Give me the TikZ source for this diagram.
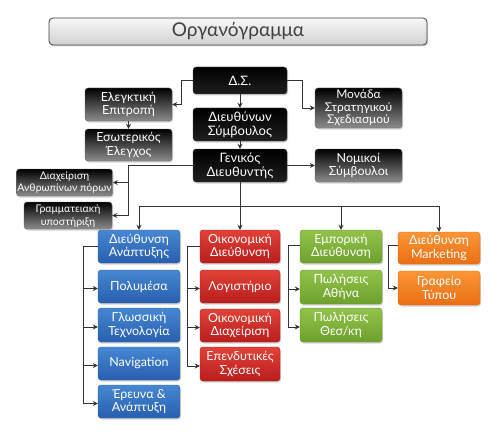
\documentclass[tikz,border=0pt]{standalone}
\usepackage{fontspec}
\setmainfont{Lato}
\usetikzlibrary{shadows,arrows.meta,calc}
\definecolor{lnc}{HTML}{333333}
\tikzset{
  base/.style={rounded corners=3pt, align=center, text=white, inner sep=1pt,
    font=\fontsize{12.5}{13.5}\selectfont,
    drop shadow={shadow xshift=1pt, shadow yshift=-1.5pt, opacity=0.35}},
  mainbox/.style={base, top color=black, bottom color=black!88, draw=black!70, line width=0.4pt, font=\fontsize{13}{14}\selectfont},
  sidebox/.style={base, top color=black, bottom color=black!45, draw=black!60, line width=0.4pt},
  bluebox/.style={base, top color={rgb,255:red,70;green,135;blue,210}, bottom color={rgb,255:red,40;green,95;blue,175}, draw={rgb,255:red,50;green,100;blue,170}, line width=0.4pt},
  redbox/.style={base, top color={rgb,255:red,225;green,65;blue,55}, bottom color={rgb,255:red,185;green,30;blue,30}, draw={rgb,255:red,170;green,30;blue,30}, line width=0.4pt},
  greenbox/.style={base, top color={rgb,255:red,145;green,195;blue,75}, bottom color={rgb,255:red,110;green,160;blue,45}, draw={rgb,255:red,105;green,150;blue,45}, line width=0.4pt},
  orangebox/.style={base, top color={rgb,255:red,250;green,150;blue,55}, bottom color={rgb,255:red,235;green,110;blue,20}, draw={rgb,255:red,220;green,105;blue,20}, line width=0.4pt},
  titlebox/.style={rounded corners=4pt, top color=white!97!black, bottom color=black!18, draw=black!75, line width=0.8pt,
    text=black!75, font=\fontsize{19}{22}\selectfont,
    drop shadow={shadow xshift=1pt, shadow yshift=-1.5pt, opacity=0.3}},
  conn/.style={draw=lnc, line width=0.8pt},
  arr/.style={conn, -{Stealth[length=5pt,width=5pt]}},
}
\begin{document}
\begin{tikzpicture}[x=1pt,y=-1pt]
\fill[white] (0,0) rectangle (500,433);
\useasboundingbox (0,0) rectangle (500,433);
% title
\node[titlebox, minimum width=378pt, minimum height=27pt] (title) at (238,31.5) {Οργανόγραμμα};
% top hierarchy
\node[mainbox, minimum width=94pt, minimum height=27pt] (ds) at (240,80.5) {Δ.Σ.};
\node[mainbox, minimum width=94pt, minimum height=33pt] (dsym) at (240,124.5) {Διευθύνων\\Σύμβουλος};
\node[mainbox, minimum width=94pt, minimum height=33pt] (gen) at (240,165.5) {Γενικός\\Διευθυντής};
\node[sidebox, minimum width=87pt, minimum height=33pt] (elegk) at (128.5,104.5) {Ελεγκτική\\Επιτροπή};
\node[sidebox, minimum width=87pt, minimum height=32pt] (esot) at (128.5,145) {Εσωτερικός\\Έλεγχος};
\node[sidebox, minimum width=87pt, minimum height=40pt, font=\fontsize{12}{12.5}\selectfont] (monada) at (358.5,108) {Μονάδα\\Στρατηγικού\\Σχεδιασμού};
\node[sidebox, minimum width=87pt, minimum height=33pt] (nomikoi) at (358.5,165.5) {Νομικοί\\Σύμβουλοι};
\node[sidebox, minimum width=95pt, minimum height=27pt, font=\fontsize{10.5}{11.5}\selectfont] (diax) at (64.5,182.5) {Διαχείριση\\Ανθρωπίνων πόρων};
\node[sidebox, minimum width=88pt, minimum height=27pt, font=\fontsize{10.5}{13}\selectfont] (gramm) at (68,215.5) {Γραμματειακή\\υποστήριξη};
% blue column
\node[bluebox, minimum width=82pt, minimum height=33pt] (anapt) at (139,246.5) {Διεύθυνση\\Ανάπτυξης};
\node[bluebox, minimum width=82pt, minimum height=33pt] (polym) at (139,286.5) {Πολυμέσα};
\node[bluebox, minimum width=82pt, minimum height=34pt] (gloss) at (139,325) {Γλωσσική\\Τεχνολογία};
\node[bluebox, minimum width=82pt, minimum height=33pt] (navig) at (139,363.5) {Navigation};
\node[bluebox, minimum width=82pt, minimum height=33pt] (erevna) at (139,401.5) {Έρευνα \&\\Ανάπτυξη};
% red column
\node[redbox, minimum width=80pt, minimum height=33pt] (oikdi) at (240,246.5) {Οικονομική\\Διεύθυνση};
\node[redbox, minimum width=80pt, minimum height=33pt] (logist) at (240,286.5) {Λογιστήριο};
\node[redbox, minimum width=80pt, minimum height=33pt] (oikdiax) at (240,325.5) {Οικονομική\\Διαχείριση};
\node[redbox, minimum width=80pt, minimum height=34pt] (epend) at (240,364) {Επενδυτικές\\Σχέσεις};
% green column
\node[greenbox, minimum width=82pt, minimum height=33pt] (emp) at (341,246.5) {Εμπορική\\Διεύθυνση};
\node[greenbox, minimum width=82pt, minimum height=34pt] (athina) at (341,287) {Πωλήσεις\\Αθήνα};
\node[greenbox, minimum width=82pt, minimum height=34pt] (thess) at (341,325) {Πωλήσεις\\Θεσ/κη};
% orange column
\node[orangebox, minimum width=82pt, minimum height=32pt] (mkt) at (439,248) {Διεύθυνση\\Marketing};
\node[orangebox, minimum width=82pt, minimum height=34pt] (grafeio) at (439,288) {Γραφείο\\Τύπου};
% connectors top
\draw[arr] (ds.west) -- ++(-11,0) |- (elegk.east);
\draw[arr] (ds.east) -- ++(15,0) |- (monada.west);
\draw[arr] (ds.south) -- (dsym.north);
\draw[arr] (dsym.south) -- (gen.north);
\draw[arr] (elegk.south) -- (esot.north);
\draw[arr] (gen.east) -- (nomikoi.west);
\coordinate (gl) at (128,165.5);
\draw[conn] (gen.west) -- (gl);
\draw[arr] (gl) |- (diax.east);
\draw[arr] (gl) |- (gramm.east);
\draw[arr] (gen.south) -- (oikdi.north);
\coordinate (bus) at (240,206);
\draw[arr] (bus) -| (anapt.north);
\draw[arr] (bus) -| (emp.north);
\draw[arr] (bus) -| (mkt.north);
% column connectors
\coordinate (bl) at (83,246.5);
\draw[conn] (anapt.west) -- (bl);
\foreach \n in {polym,gloss,navig,erevna}{\draw[arr] (bl) |- ($(\n.west)+(0,2)$);}
\coordinate (rl) at (187,246.5);
\draw[conn] (oikdi.west) -- (rl);
\foreach \n in {logist,oikdiax,epend}{\draw[arr] (rl) |- ($(\n.west)+(0,2)$);}
\coordinate (gl2) at (288,245);
\draw[conn] (emp.west |- gl2) -- (gl2);
\foreach \n in {athina,thess}{\draw[arr] (gl2) |- ($(\n.west)+(0,2)$);}
\coordinate (ol) at (388,245);
\draw[conn] (mkt.west |- ol) -- (ol);
\draw[arr] (ol) |- (grafeio.west);
\end{tikzpicture}
\end{document}
